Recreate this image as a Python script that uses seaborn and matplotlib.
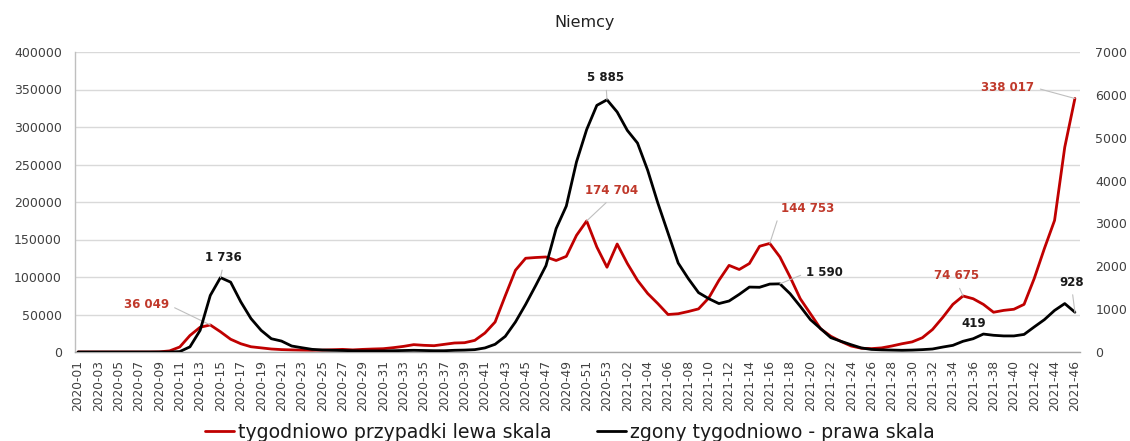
import numpy as np
import pandas as pd
import matplotlib
matplotlib.use("Agg")
import matplotlib.pyplot as plt
import seaborn as sns

# ---------------- data ----------------
weeks = [f"2020-{w:02d}" for w in range(1, 54)] + [f"2021-{w:02d}" for w in range(1, 47)]

cases = [0, 0, 0, 0, 0, 0, 0, 0, 200, 1500,
         6700, 22000, 33000, 36049, 27000, 17000, 11000, 7000, 5500, 4000,
         3200, 2800, 2500, 2300, 2500, 3000, 3500, 2800, 3500, 4000,
         4400, 5800, 7500, 9800, 8900, 8400, 10200, 12000, 12400, 15500,
         25300, 40000, 75000, 109000, 125000, 126000, 126700, 122000, 127500, 155500,
         174704, 140000, 113000, 144000, 118000, 95500, 78000, 64500, 50000, 51000,
         54000, 57500, 72000, 95500, 115500, 110000, 118000, 141000, 144753, 126700,
         100000, 71000, 51000, 31000, 21000, 14000, 8000, 5000, 4500, 5500,
         8000, 11000, 13500, 19000, 30000, 46000, 63500, 74675, 71000, 63500,
         53000, 55500, 57000, 63500, 98000, 138000, 175500, 273000, 338017]

deaths = [0, 0, 0, 0, 0, 0, 0, 0, 0, 0,
          10, 120, 505, 1320, 1736, 1630, 1170, 780, 505, 310,
          255, 140, 100, 62, 47, 40, 35, 30, 25, 25,
          25, 30, 35, 40, 35, 30, 30, 40, 45, 55,
          95, 180, 365, 700, 1110, 1555, 2015, 2880, 3405, 4435,
          5190, 5755, 5885, 5600, 5170, 4875, 4240, 3475, 2775, 2075,
          1710, 1385, 1245, 1130, 1190, 1345, 1515, 1510, 1585, 1590,
          1360, 1065, 755, 545, 335, 250, 170, 95, 60, 50,
          45, 40, 45, 55, 70, 115, 155, 250, 310, 419,
          390, 375, 375, 410, 585, 755, 970, 1130, 928]

left_ticks = [0, 50000, 100000, 150000, 200000, 250000, 300000, 350000, 400000]
right_ticks = [0, 1000, 2000, 3000, 4000, 5000, 6000, 7000]

title = "Niemcy"
case_label = "tygodniowo przypadki lewa skala"
death_label = "zgony tygodniowo - prawa skala"

case_notes = [(13, "36 049"), (50, "174 704"), (68, "144 753"), (87, "74 675"), (98, "338 017")]
death_notes = [(14, "1 736"), (52, "5 885"), (69, "1 590"), (89, "419"), (98, "928")]

# ---------------- style ----------------
RED = "#C00000"
RED_TXT = "#C0392B"
BLACK = "#000000"
GRID = "#D9D9D9"
LEADER = "#BFBFBF"
TXT = "#404040"

sns.set_theme(style="white")
plt.rcParams["font.family"] = ["DejaVu Sans"]

df = pd.DataFrame({"idx": np.arange(len(weeks)), "week": weeks,
                   "cases": cases, "deaths": deaths})

fig = plt.figure(figsize=(11.3, 4.41), dpi=100)
ax = fig.add_axes([75 / 1130, 1 - 352 / 441, (1080 - 75) / 1130, 300 / 441])
ax2 = ax.twinx()

sns.lineplot(data=df, x="idx", y="cases", ax=ax, color=RED, linewidth=2.0,
             label=case_label, legend=False)
sns.lineplot(data=df, x="idx", y="deaths", ax=ax2, color=BLACK, linewidth=2.0,
             label=death_label, legend=False)

ax.set_xlim(-0.3, 98.5)
ax.set_ylim(0, 400000)
ax2.set_ylim(0, 7000)

ax.set_yticks(left_ticks)
ax.set_yticklabels([str(t) for t in left_ticks], fontsize=9, color=TXT)
ax2.set_yticks(right_ticks)
ax2.set_yticklabels([str(t) for t in right_ticks], fontsize=9, color=TXT)

xt = df["idx"].values[::2]
ax.set_xticks(xt)
ax.set_xticklabels(df["week"].values[::2], rotation=90, fontsize=8.8, color=TXT)

ax.tick_params(axis="both", length=0)
ax.tick_params(axis="y", pad=9.5)
ax.tick_params(axis="x", pad=6)
ax2.tick_params(axis="y", length=0, pad=11)

ax.set_xlabel("")
ax.set_ylabel("")
ax2.set_ylabel("")

ax.yaxis.grid(True, color=GRID, linewidth=1.0)
ax.set_axisbelow(True)
ax2.grid(False)

for s in ["top", "right"]:
    ax.spines[s].set_visible(False)
for s in ["top", "right", "left", "bottom"]:
    ax2.spines[s].set_visible(False)
ax.spines["left"].set_color("#BFBFBF")
ax.spines["bottom"].set_color("#A6A6A6")
ax.spines["left"].set_linewidth(1.0)
ax.spines["bottom"].set_linewidth(1.0)

fig.text(585 / 1130, 1 - 22 / 441, title, ha="center", va="center", fontsize=11.5, color="#222222")

# ---------------- annotations ----------------
case_off = {13: (-64, 20, (1, 0.5)), 50: (25, 30, (0.5, 0)), 68: (38, 35, (0, 0.5)),
            87: (-6, 20, (0.5, 0)), 98: (-67, 11, (1, 0.5))}
death_off = {14: (3, 20, (0.5, 0)), 52: (-1, 22, (0.5, 0)), 69: (45, 11, (0, 0.5)),
             89: (-10, 11, None), 98: (-3, 30, (0.5, 0))}

for i, txt in case_notes:
    dx, dy, rp = case_off[i]
    ap = dict(arrowstyle="-", color=LEADER, lw=0.8, shrinkA=2, shrinkB=0, relpos=rp)
    ax.annotate(txt, xy=(df["idx"][i], df["cases"][i]), xytext=(dx, dy),
                textcoords="offset pixels", ha="center", va="center",
                fontsize=8.5, fontweight="bold", color=RED_TXT, arrowprops=ap, zorder=5)

for i, txt in death_notes:
    dx, dy, rp = death_off[i]
    ap = None if rp is None else dict(arrowstyle="-", color=LEADER, lw=0.8,
                                      shrinkA=2, shrinkB=0, relpos=rp)
    ax2.annotate(txt, xy=(df["idx"][i], df["deaths"][i]), xytext=(dx, dy),
                 textcoords="offset pixels", ha="center", va="center",
                 fontsize=8.5, fontweight="bold", color="#1a1a1a", arrowprops=ap, zorder=5)

# ---------------- legend ----------------
h1, l1 = ax.get_legend_handles_labels()
h2, l2 = ax2.get_legend_handles_labels()
leg = fig.legend(h1 + h2, l1 + l2, loc="center", bbox_to_anchor=(570 / 1130, 1 - 432 / 441),
                 ncol=2, frameon=False, fontsize=13.6, handlelength=1.55,
                 handletextpad=0.2, columnspacing=2.4, borderpad=0.2)
for t in leg.get_texts():
    t.set_color("#1a1a1a")

fig.savefig("out.png", dpi=100)
